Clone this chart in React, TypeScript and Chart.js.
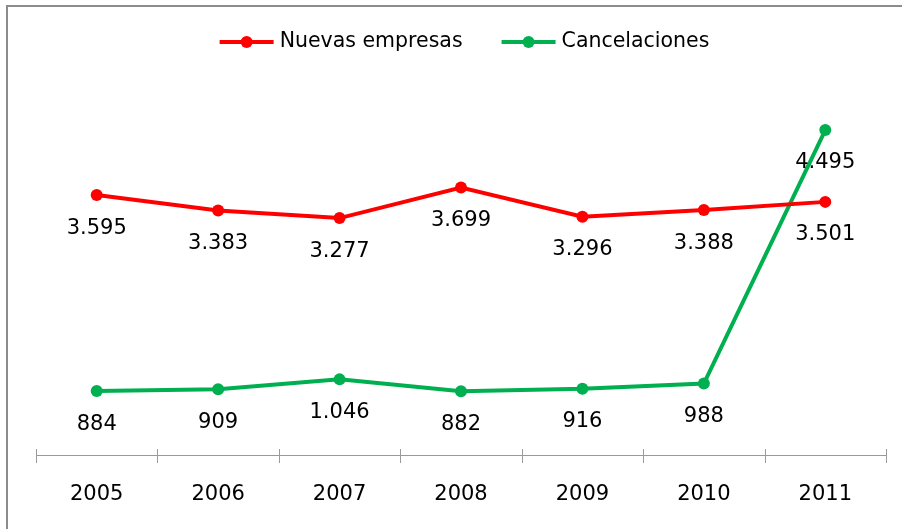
import React, { useEffect, useRef } from 'react';
import { Chart, registerables } from 'chart.js';

Chart.register(...registerables);

const years = ['2005', '2006', '2007', '2008', '2009', '2010', '2011'];
const nuevasEmpresas = [3595, 3383, 3277, 3699, 3296, 3388, 3501];
const cancelaciones = [884, 909, 1046, 882, 916, 988, 4495];
const seriesNames = ['Nuevas empresas', 'Cancelaciones'];
const seriesColors = ['#FF0000', '#00B050'];
const yMin = 0;
const yMax = 5000;

const FONT = '"DejaVu Sans", Verdana, sans-serif';

function fmt(v: number): string {
  return String(v).replace(/\B(?=(\d{3})+(?!\d))/g, '.');
}

const framePlugin = {
  id: 'frame',
  beforeDraw(chart: any) {
    const ctx = chart.ctx;
    ctx.save();
    ctx.fillStyle = '#ffffff';
    ctx.fillRect(0, 0, chart.width, chart.height);
    ctx.fillStyle = '#8c8c8c';
    ctx.fillRect(6, 5, 2, chart.height - 5);
    ctx.fillRect(6, 5, chart.width - 6, 2);
    ctx.restore();
  },
};

const axisPlugin = {
  id: 'axisLine',
  afterDraw(chart: any) {
    const ctx = chart.ctx;
    const xs = chart.scales.x;
    const { left, right, bottom } = chart.chartArea;
    const n = years.length;
    ctx.save();
    ctx.strokeStyle = '#9a9a9a';
    ctx.lineWidth = 1;
    ctx.beginPath();
    ctx.moveTo(left, bottom + 0.5);
    ctx.lineTo(right, bottom + 0.5);
    for (let i = 0; i <= n; i++) {
      const x = Math.round(xs.getPixelForValue(i - 0.5)) + 0.5;
      ctx.moveTo(x, bottom - 6);
      ctx.lineTo(x, bottom + 8);
    }
    ctx.stroke();
    ctx.restore();
  },
};

const labelPlugin = {
  id: 'dataLabels',
  afterDatasetsDraw(chart: any) {
    const ctx = chart.ctx;
    ctx.save();
    ctx.font = `21px ${FONT}`;
    ctx.fillStyle = '#000000';
    ctx.textAlign = 'center';
    ctx.textBaseline = 'middle';
    chart.data.datasets.forEach((ds: any, di: number) => {
      const meta = chart.getDatasetMeta(di);
      meta.data.forEach((pt: any, i: number) => {
        ctx.fillText(fmt(ds.data[i]), pt.x, pt.y + 33);
      });
    });
    ctx.restore();
  },
};

const legendPlugin = {
  id: 'customLegend',
  afterDraw(chart: any) {
    const ctx = chart.ctx;
    ctx.save();
    ctx.font = `20.5px ${FONT}`;
    const lineW = 54;
    const gap = 6;
    const itemGap = 39;
    const widths = seriesNames.map((s) => ctx.measureText(s).width);
    const total = widths.reduce((a, w) => a + lineW + gap + w, 0) + itemGap * (seriesNames.length - 1);
    const cx = (chart.chartArea.left + chart.chartArea.right) / 2 + 3.5;
    let x = cx - total / 2;
    const y = 42;
    seriesNames.forEach((name, i) => {
      ctx.strokeStyle = seriesColors[i];
      ctx.lineWidth = 4;
      ctx.beginPath();
      ctx.moveTo(x, y);
      ctx.lineTo(x + lineW, y);
      ctx.stroke();
      ctx.fillStyle = seriesColors[i];
      ctx.beginPath();
      ctx.arc(x + lineW / 2, y, 6, 0, Math.PI * 2);
      ctx.fill();
      ctx.fillStyle = '#000000';
      ctx.textAlign = 'left';
      ctx.textBaseline = 'middle';
      ctx.fillText(name, x + lineW + gap, y);
      x += lineW + gap + widths[i] + itemGap;
    });
    ctx.restore();
  },
};

export default function App() {
  const canvasRef = useRef<HTMLCanvasElement | null>(null);

  useEffect(() => {
    if (!canvasRef.current) return;
    const chart = new Chart(canvasRef.current, {
      type: 'line',
      data: {
        labels: years,
        datasets: [
          {
            label: seriesNames[0],
            data: nuevasEmpresas,
            borderColor: seriesColors[0],
            backgroundColor: seriesColors[0],
            borderWidth: 4,
            pointRadius: 6,
            pointBorderWidth: 0,
            pointBackgroundColor: seriesColors[0],
            tension: 0,
          },
          {
            label: seriesNames[1],
            data: cancelaciones,
            borderColor: seriesColors[1],
            backgroundColor: seriesColors[1],
            borderWidth: 4,
            pointRadius: 6,
            pointBorderWidth: 0,
            pointBackgroundColor: seriesColors[1],
            tension: 0,
          },
        ],
      },
      options: {
        animation: false,
        responsive: false,
        maintainAspectRatio: false,
        devicePixelRatio: 1,
        layout: { padding: { left: 36, right: 16, top: 93.5, bottom: 0 } },
        plugins: {
          legend: { display: false },
          tooltip: { enabled: false },
        },
        scales: {
          x: {
            offset: true,
            grid: { display: false, drawTicks: false },
            border: { display: false },
            ticks: {
              color: '#000000',
              font: { family: FONT, size: 21 },
              padding: 27,
              maxRotation: 0,
              autoSkip: false,
            },
            afterFit: (scale: any) => {
              scale.height = 74;
            },
          },
          y: {
            display: false,
            min: yMin,
            max: yMax,
          },
        },
      },
      plugins: [framePlugin, axisPlugin, labelPlugin, legendPlugin],
    });
    return () => chart.destroy();
  }, []);

  return (
    <div style={{ position: 'fixed', left: 0, top: 0, width: 902, height: 529, background: '#fff' }}>
      <canvas ref={canvasRef} width={902} height={529} style={{ display: 'block', width: 902, height: 529 }} />
    </div>
  );
}
